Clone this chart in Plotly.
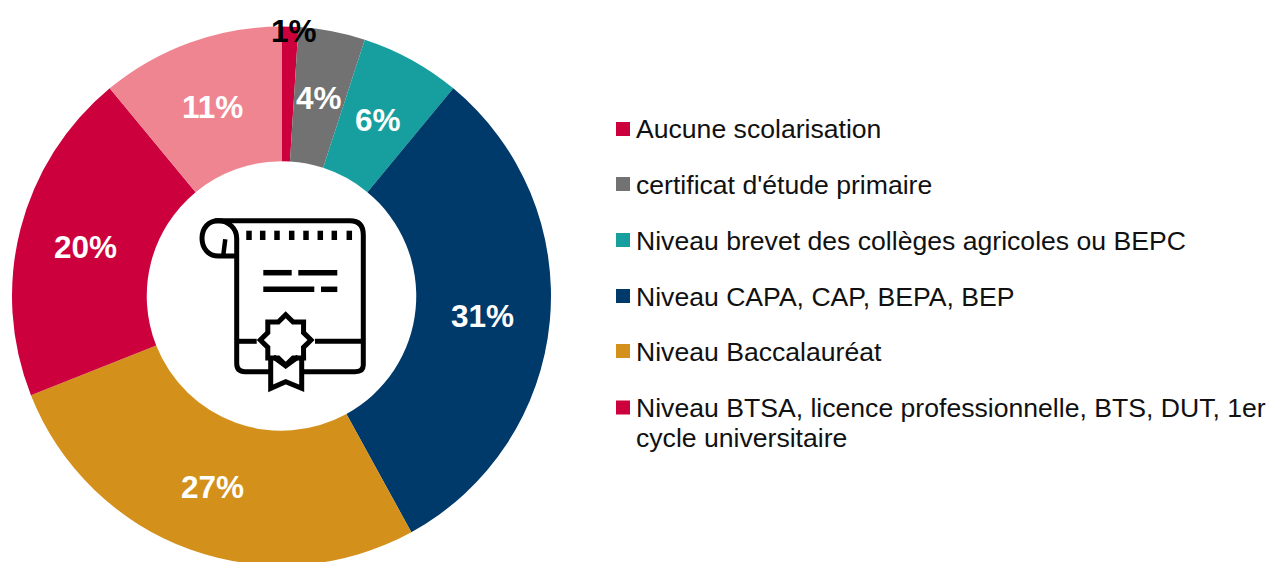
import math
import plotly.graph_objects as go

slice_labels = ["Aucune scolarisation", "certificat d'étude primaire",
                "Niveau brevet des collèges agricoles ou BEPC",
                "Niveau CAPA, CAP, BEPA, BEP", "Niveau Baccalauréat",
                "Niveau BTSA, licence professionnelle, BTS, DUT, 1er<br>cycle universitaire",
                "Autre"]
values = [1, 4, 6, 31, 27, 20, 11]
colors = ["#CC003D", "#727272", "#179E9E", "#003A6B", "#D3901A", "#CC003D", "#EF8590"]
legend_count = 6

W, H = 1274, 570
CX, CY, R = 281.5, 296.0, 269.5
FONT = "Liberation Sans, Arial, sans-serif"
PCT = 31.5

fig = go.Figure()
fig.add_trace(go.Pie(
    labels=slice_labels, values=values, sort=False, direction="clockwise", rotation=0,
    hole=0.5, marker=dict(colors=colors, line=dict(width=0)),
    domain=dict(x=[(CX - R) / W, (CX + R) / W], y=[1 - (CY + R) / H, 1 - (CY - R) / H]),
    textinfo="none",
    showlegend=False, hoverinfo="label+percent",
))

annotations = [dict(x=293.5, y=30.5, text=f"{values[0]}%", showarrow=False, xref="x", yref="y",
                    font=dict(family=FONT, size=PCT, color="black", weight="bold"))]
shapes = []

# Percent labels placed at mid-ring, from the values themselves
total = sum(values)
running = 0
for i, v in enumerate(values):
    mid = 2 * math.pi * (running + v / 2) / total
    running += v
    if i == 0:
        continue
    r = R * 0.75
    annotations.append(dict(x=CX + r * math.sin(mid) - 0.5, y=CY - r * math.cos(mid) + 1, text=f"{v}%",
                            showarrow=False, xref="x", yref="y",
                            font=dict(family=FONT, size=PCT, color="white", weight="bold")))

# Legend
swatch_y = [129, 184, 240, 296, 351, 407.5]
text_y = [129, 185, 241, 297, 352, 408]
line_pitch = 30
for i in range(legend_count):
    y = swatch_y[i]
    shapes.append(dict(type="rect", xref="x", yref="y", x0=616, x1=630, y0=y - 7, y1=y + 7,
                       fillcolor=colors[i], line=dict(width=0)))
    for j, part in enumerate(slice_labels[i].split("<br>")):
        annotations.append(dict(x=633.5, y=text_y[i] + j * line_pitch, text=part, showarrow=False, xref="x", yref="y",
                                xanchor="left", yanchor="middle", align="left",
                                font=dict(family=FONT, size=26.6, color="#111111")))

# Central diploma icon (drawn in the reference's zoom coordinates)
def Z(x, y):
    return f"{180 + x / 3:.1f} {200 + y / 3:.1f}"

def stroke(path, width):
    shapes.append(dict(type="path", xref="x", yref="y", path=path,
                       line=dict(color="black", width=width), fillcolor="rgba(0,0,0,0)"))

stroke(f"M{Z(105,62)} L{Z(510,62)} Q{Z(550,62)} {Z(550,105)} L{Z(550,495)} Q{Z(550,515)} {Z(525,515)} L{Z(368,515)}", 5)
stroke(f"M{Z(270,515)} L{Z(195,515)} Q{Z(170,515)} {Z(170,490)} L{Z(170,115)} C{Z(170,85)} {Z(145,62)} {Z(115,62)} "
       f"C{Z(85,62)} {Z(66,85)} {Z(66,115)} C{Z(66,145)} {Z(85,168)} {Z(115,168)} L{Z(170,168)}", 5)
stroke(f"M{Z(136,118)} L{Z(130,165)}", 4.5)
for x in [207, 248, 291, 335, 378, 421, 463, 508]:
    stroke(f"M{Z(x,92)} L{Z(x,120)}", 5.5)
for a, b, y in [(250, 335, 218), (355, 472, 218), (250, 403, 268), (423, 472, 268)]:
    stroke(f"M{Z(a,y)} L{Z(b,y)}", 5.5)
for a, b in [(175, 230), (405, 545)]:
    stroke(f"M{Z(a,424)} L{Z(b,424)}", 5)

pts = []
for k in range(16):
    r = 76 if k % 2 == 0 else 58
    ang = math.pi * k / 8
    pts.append(Z(317 + r * math.sin(ang), 420 - r * math.cos(ang)))
stroke("M" + " L".join(pts) + " Z", 5)
stroke(f"M{Z(272,468)} L{Z(272,565)} L{Z(317,545)} L{Z(365,565)} L{Z(365,468)}", 5)
stroke(f"M{Z(280,470)} L{Z(317,498)} L{Z(355,470)}", 5)

fig.update_layout(
    width=W, height=H, autosize=False,
    margin=dict(l=0, r=0, t=0, b=0),
    paper_bgcolor="white", plot_bgcolor="white",
    showlegend=False,
    xaxis=dict(range=[0, W], visible=False, fixedrange=True),
    yaxis=dict(range=[H, 0], visible=False, fixedrange=True),
    shapes=shapes, annotations=annotations,
)
fig.write_html("out.html", config=dict(displayModeBar=False),
               post_script="document.documentElement.style.overflow='hidden';document.body.style.margin='0';document.body.style.overflow='hidden';")
